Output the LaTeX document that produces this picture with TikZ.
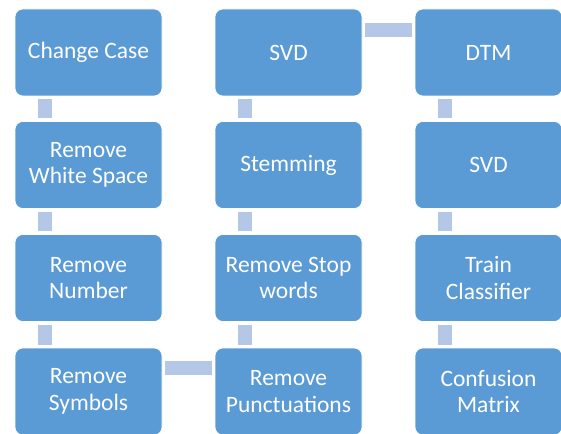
\documentclass[tikz,border=0pt]{standalone}
\usepackage{fontspec}
\setmainfont{Carlito}
\usetikzlibrary{calc}
\definecolor{boxblue}{HTML}{5B9BD5}
\definecolor{linkblue}{HTML}{B4C7E7}
\tikzset{
  stepbox/.style={rectangle, rounded corners=8pt, fill=boxblue, draw=white, line width=0.6pt,
    minimum width=147pt, minimum height=87pt, inner sep=0pt, text=white, align=center,
    font=\fontsize{23.5}{26.5}\selectfont},
  link/.style={draw=linkblue, line width=14pt}
}
\begin{document}
\begin{tikzpicture}[x=1pt,y=-1pt]
\useasboundingbox (0,0) rectangle (561,433);
% column 1
\node[stepbox] (c1) at (88.5,52.5) {Change Case};
\node[stepbox] (c2) at (88.5,165) {Remove\\White Space};
\node[stepbox] (c3) at (88.5,278) {Remove\\Number};
\node[stepbox] (c4) at (88.5,391.5) {Remove\\Symbols};
% column 2
\node[stepbox] (m4) at (288.5,391.5) {Remove\\Punctuations};
\node[stepbox] (m3) at (288.5,278) {Remove Stop\\words};
\node[stepbox] (m2) at (288.5,165) {Stemming};
\node[stepbox] (m1) at (288.5,52.5) {SVD};
% column 3
\node[stepbox] (r1) at (488.5,52.5) {DTM};
\node[stepbox] (r2) at (488.5,165) {SVD};
\node[stepbox] (r3) at (488.5,278) {Train\\Classifier};
\node[stepbox] (r4) at (488.5,391.5) {Confusion\\Matrix};
% vertical links
\foreach \a/\b in {c1/c2,c2/c3,c3/c4,m1/m2,m2/m3,m3/m4,r1/r2,r2/r3,r3/r4}{
  \draw[link] ($(\a.south west)+(30,3)$) -- ($(\b.north west)+(30,-3)$);
}
% horizontal links
\draw[link] ($(c4.north east)+(3,20.5)$) -- ($(m4.north west)+(-3,20.5)$);
\draw[link] ($(m1.north east)+(3,21)$) -- ($(r1.north west)+(-3,21)$);
\end{tikzpicture}
\end{document}
